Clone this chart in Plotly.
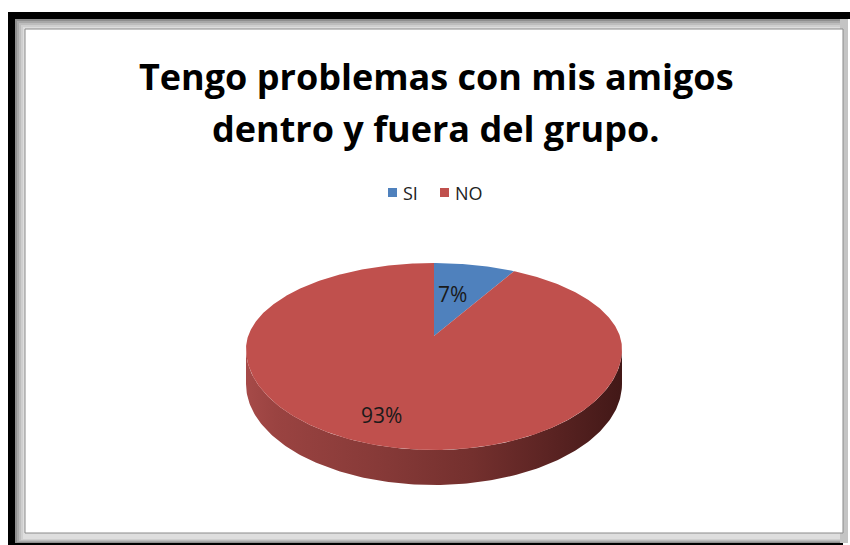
import numpy as np
import plotly.graph_objects as go

# Survey answers
categories = ["SI", "NO"]
values = [7, 93]
slice_colors = ["#4F81BD", "#C0504D"]
title_lines = ["Tengo problemas con mis amigos", "dentro y fuera del grupo."]

W, H = 850, 545
FONT = "Open Sans"

# Pie geometry (pixel space, y grows downward)
CX, CY = 434, 349            # ellipse centre of the top face
RX = 188                     # horizontal radius
RY_BACK, RY_FRONT = 86, 101  # perspective: back half flatter than front half
TIP_Y = 336                  # projected pie centre
DEPTH = 35                   # thickness of the disc
# label placement as fractions of the (x, y) radii along each slice's mid-angle
LABEL_FRAC = [(0.45, 0.50), (1.27, 0.80)]


def rim(t_deg, dy=0.0):
    t = np.radians(t_deg)
    ry = np.where(np.cos(t) > 0, RY_BACK, RY_FRONT)
    return CX + RX * np.sin(t), CY - ry * np.cos(t) + dy


fig = go.Figure()

# Side wall of the disc (front half), shaded left-to-right
t_front = np.linspace(90, 270, 181)
xf, yf = rim(t_front)
xb, yb = rim(t_front[::-1], DEPTH)
fig.add_trace(go.Scatter(
    x=np.concatenate([xf, xb]), y=np.concatenate([yf, yb]),
    fill="toself", mode="lines", line=dict(width=0),
    fillgradient=dict(type="horizontal", colorscale=[
        [0.0, "#A64A48"], [0.08, "#9A4341"], [0.35, "#873A38"],
        [0.6, "#74302E"], [0.8, "#5C2423"], [1.0, "#421817"]]),
    hoverinfo="skip", showlegend=False))

# Top face slices, clockwise from 12 o'clock
total = sum(values)
start = 0.0
for i, (cat, v) in enumerate(zip(categories, values)):
    sweep = 360.0 * v / total
    ts = np.linspace(start, start + sweep, max(int(sweep * 2), 8))
    xs, ys = rim(ts)
    fig.add_trace(go.Scatter(
        x=np.concatenate([[CX], xs, [CX]]),
        y=np.concatenate([[TIP_Y], ys, [TIP_Y]]),
        fill="toself", mode="lines", line=dict(width=0),
        fillcolor=slice_colors[i], hoverinfo="skip", showlegend=False))
    mid = np.radians(start + sweep / 2)
    ry = RY_BACK if np.cos(mid) > 0 else RY_FRONT
    fx, fy = LABEL_FRAC[i]
    fig.add_annotation(
        x=CX + RX * np.sin(mid) * fx,
        y=TIP_Y - ry * np.cos(mid) * fy,
        text=f"{v / total * 100:.0f}%", showarrow=False,
        font=dict(family=FONT, size=21, color="#1a1a1a"))
    start += sweep

# Legend: coloured square followed by the category name
legend_x = [388, 440]
LEG_Y = 193
for cat, col, lx in zip(categories, slice_colors, legend_x):
    fig.add_shape(type="rect", x0=lx, x1=lx + 9, y0=LEG_Y - 5, y1=LEG_Y + 4,
                  fillcolor=col, line_width=0, xref="x", yref="y")
    fig.add_annotation(x=lx + 13, y=LEG_Y, text=cat, showarrow=False,
                       xanchor="left", yanchor="middle",
                       font=dict(family=FONT, size=18, color="#222222"))

# Picture frame: black border, grey bevel, white panel
shapes = [dict(type="rect", x0=8, y0=12, x1=852, y1=547,
               fillcolor="#000000", line_width=0)]
bevel = ["#8e8e8e", "#a8a8a8", "#bdbdbd", "#cfcfcf", "#dedede"]
for k, c in enumerate(bevel):
    shapes.append(dict(type="rect", x0=15 + 2 * k, y0=19 + 2 * k,
                       x1=852, y1=543 - k, fillcolor=c, line_width=0))
shapes.append(dict(type="rect", x0=843, y0=19, x1=852, y1=547,
                   fillcolor="#ffffff", line_width=0))
shapes.append(dict(type="rect", x0=840, y0=19, x1=848, y1=543,
                   fillcolor="#c4c4c4", line_width=0))
shapes.append(dict(type="rect", x0=25, y0=29, x1=843, y1=533,
                   fillcolor="#ffffff", line=dict(color="#8a8a8a", width=1)))
for s in shapes:
    s.update(xref="x", yref="y", layer="below")

for k, line in enumerate(title_lines):
    fig.add_annotation(
        x=436, y=76 + 52 * k, text=line, showarrow=False,
        font=dict(family=FONT, size=36, color="#000000", weight="bold"))

fig.update_layout(
    width=W, height=H, margin=dict(l=0, r=0, t=0, b=0),
    paper_bgcolor="#ffffff", plot_bgcolor="#ffffff",
    shapes=list(fig.layout.shapes) + shapes,
    xaxis=dict(range=[0, W], visible=False, fixedrange=True),
    yaxis=dict(range=[H, 0], visible=False, fixedrange=True),
    showlegend=False,
)

fig.write_html("out.html")
